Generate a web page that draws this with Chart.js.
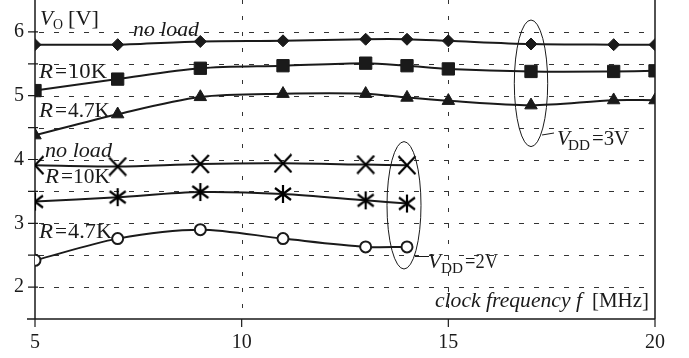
<!DOCTYPE html>
<html>
<head>
<meta charset="utf-8">
<script src="https://cdn.jsdelivr.net/npm/chart.js@4/dist/chart.umd.min.js"></script>
<style>
  html, body { margin: 0; padding: 0; background: #ffffff; }
  canvas { display: block; }
</style>
</head>
<body>
<canvas id="c" width="689" height="358"></canvas>
<script>
// ---- data ----
const freq3V = [5, 7, 9, 11, 13, 14, 15, 17, 19, 20];
const vdd3NoLoad = [5.80, 5.80, 5.85, 5.86, 5.885, 5.885, 5.86, 5.81, 5.80, 5.80];
const vdd3R10K  = [5.08, 5.26, 5.43, 5.47, 5.51, 5.47, 5.42, 5.38, 5.38, 5.39];
const vdd3R47K  = [4.38, 4.71, 4.98, 5.03, 5.03, 4.97, 4.92, 4.85, 4.93, 4.93];

const freq2V = [5, 7, 9, 11, 13, 14];
const vdd2NoLoad = [3.91, 3.89, 3.93, 3.94, 3.92, 3.91];
const vdd2R10K  = [3.34, 3.41, 3.49, 3.46, 3.36, 3.31];
const vdd2R47K  = [2.42, 2.76, 2.90, 2.76, 2.63, 2.63];

const xTickValues = [5, 10, 15, 20];
const yTickValues = [2, 3, 4, 5, 6];

// ---- custom marker canvases ----
const INK = '#1a1a1a';
function makeMarker(drawFn) {
  const c = document.createElement('canvas');
  c.width = 20; c.height = 20;
  const g = c.getContext('2d');
  g.strokeStyle = '#000'; g.lineWidth = 2.2; g.lineCap = 'butt';
  g.beginPath(); drawFn(g); g.stroke();
  return c;
}
const xMarker = makeMarker(g => {
  g.moveTo(1.5, 1); g.lineTo(18.5, 19);
  g.moveTo(1.5, 19); g.lineTo(18.5, 1);
});
const asteriskMarker = makeMarker(g => {
  g.moveTo(10, 1); g.lineTo(10, 19);
  g.moveTo(2, 4); g.lineTo(18, 16);
  g.moveTo(2, 16); g.lineTo(18, 4);
});

function pts(xs, ys) { return xs.map((x, i) => ({ x: x, y: ys[i] })); }

function series(label, xs, ys, style) {
  return Object.assign({
    label: label,
    data: pts(xs, ys),
    borderColor: INK,
    backgroundColor: INK,
    borderWidth: 2,
    tension: 0.3,
    pointBorderColor: INK,
    pointBackgroundColor: INK,
    pointBorderWidth: 1,
    fill: false
  }, style);
}

const datasets = [
  series('VDD=3V no load', freq3V, vdd3NoLoad, { pointStyle: 'rectRot', pointRadius: 6 }),
  series('VDD=3V R=10K', freq3V, vdd3R10K, { pointStyle: 'rect', pointRadius: 8.7 }),
  series('VDD=3V R=4.7K', freq3V, vdd3R47K, { pointStyle: 'triangle', pointRadius: 7.2 }),
  series('VDD=2V no load', freq2V, vdd2NoLoad, { pointStyle: xMarker }),
  series('VDD=2V R=10K', freq2V, vdd2R10K, { pointStyle: asteriskMarker }),
  series('VDD=2V R=4.7K', freq2V, vdd2R47K, { pointStyle: 'circle', pointRadius: 5.5, pointBackgroundColor: '#ffffff', pointBorderWidth: 2 })
];

// ---- drawing helpers ----
const SERIF = '"Liberation Serif", "DejaVu Serif", serif';
function txt(ctx, s, x, y, size, italic, width) {
  ctx.save();
  ctx.font = (italic ? 'italic ' : '') + size + 'px ' + SERIF;
  ctx.fillStyle = '#1a1a1a';
  ctx.textBaseline = 'alphabetic';
  ctx.textAlign = 'left';
  const w = ctx.measureText(s).width;
  const sx = width ? width / w : 1;
  ctx.translate(x, y);
  ctx.scale(sx, 1);
  ctx.fillText(s, 0, 0);
  ctx.restore();
}

const frame = {
  id: 'frame',
  beforeDatasetsDraw(chart) {
    const ctx = chart.ctx;
    const xs = chart.scales.x, ys = chart.scales.y;
    const a = chart.chartArea;
    ctx.save();
    // horizontal dashed grid
    ctx.strokeStyle = '#333';
    ctx.lineWidth = 1;
    ctx.setLineDash([5, 10]);
    for (let v = 2; v <= 6.001; v += 0.5) {
      const y = Math.round(ys.getPixelForValue(v)) + 0.5;
      ctx.beginPath(); ctx.moveTo(a.left + 4, y); ctx.lineTo(a.right - 6, y); ctx.stroke();
    }
    // vertical dashed grid
    ctx.setLineDash([4, 12]);
    [10, 15].forEach(v => {
      const x = Math.round(xs.getPixelForValue(v)) + 0.5;
      ctx.beginPath(); ctx.moveTo(x, a.top); ctx.lineTo(x, a.bottom); ctx.stroke();
    });
    ctx.setLineDash([]);
    // axes
    ctx.strokeStyle = '#1a1a1a';
    ctx.lineWidth = 1.5;
    const x0 = xs.getPixelForValue(5), x1 = xs.getPixelForValue(20);
    const yb = ys.getPixelForValue(1.5), yt = ys.getPixelForValue(6.5);
    ctx.beginPath();
    ctx.moveTo(x0, yt); ctx.lineTo(x0, yb);
    ctx.moveTo(x0 - 8, yb); ctx.lineTo(x1, yb);
    ctx.moveTo(x1, yt); ctx.lineTo(x1, yb);
    ctx.stroke();
    // ticks
    ctx.lineWidth = 1.2;
    ctx.beginPath();
    for (let v = 2; v <= 6.001; v += 0.5) {
      const y = ys.getPixelForValue(v);
      ctx.moveTo(x0 - 7, y); ctx.lineTo(x0 + 3, y);
    }
    xTickValues.forEach(v => {
      const x = xs.getPixelForValue(v);
      ctx.moveTo(x, yb); ctx.lineTo(x, yb + 8);
    });
    ctx.stroke();
    ctx.restore();
  },
  afterDatasetsDraw(chart) {
    const ctx = chart.ctx;
    // axis titles
    txt(ctx, 'V', 40, 25, 20, true, 13);
    txt(ctx, 'O', 53, 29, 14, false, 10);
    txt(ctx, '[V]', 68, 25, 20, false, 31);
    txt(ctx, 'clock frequency f', 435, 307, 20, true, 147);
    txt(ctx, '[MHz]', 592, 307, 20, false, 57);
    // VDD = 3V labels
    txt(ctx, 'no load', 133, 36, 21, true, 66);
    txt(ctx, 'R', 39, 78, 20, true, 14);
    txt(ctx, '=', 55, 78, 20, false, 12);
    txt(ctx, '10K', 68, 78, 20, false, 39);
    txt(ctx, 'R', 39, 117, 20, true, 14);
    txt(ctx, '=', 55, 117, 20, false, 12);
    txt(ctx, '4.7K', 68, 117, 20, false, 42);
    // VDD = 2V labels
    txt(ctx, 'no load', 45, 157, 21, true, 67);
    txt(ctx, 'R', 45, 183, 20, true, 14);
    txt(ctx, '=', 61, 183, 20, false, 12);
    txt(ctx, '10K', 73, 183, 20, false, 37);
    txt(ctx, 'R', 39, 238, 20, true, 14);
    txt(ctx, '=', 55, 238, 20, false, 12);
    txt(ctx, '4.7K', 68, 238, 20, false, 44);
    // ellipses and leaders
    ctx.save();
    ctx.strokeStyle = '#1a1a1a';
    ctx.lineWidth = 1;
    ctx.beginPath(); ctx.ellipse(531, 83.3, 16.7, 63.3, 0, 0, Math.PI * 2); ctx.stroke();
    ctx.beginPath(); ctx.ellipse(404, 205.3, 17, 63.7, 0, 0, Math.PI * 2); ctx.stroke();
    ctx.beginPath();
    ctx.moveTo(542, 135); ctx.lineTo(554, 133);
    ctx.moveTo(415, 256.5); ctx.lineTo(429, 256.5);
    ctx.stroke();
    ctx.restore();
    txt(ctx, 'V', 557, 145, 20, true, 13);
    txt(ctx, 'DD', 568, 150, 14, false, 22);
    txt(ctx, '=3V', 592, 145, 20, false, 37);
    txt(ctx, 'V', 428, 268, 20, true, 13);
    txt(ctx, 'DD', 441, 273, 14, false, 22);
    txt(ctx, '=2V', 465, 268, 20, false, 33);
  }
};

new Chart(document.getElementById('c'), {
  type: 'line',
  data: { datasets: datasets },
  options: {
    responsive: false,
    devicePixelRatio: 1,
    animation: false,
    layout: { autoPadding: false, padding: { top: 0, right: 34, bottom: 0, left: 0 } },
    plugins: { legend: { display: false }, tooltip: { enabled: false } },
    scales: {
      x: {
        type: 'linear',
        min: 5, max: 20,
        afterBuildTicks: s => { s.ticks = xTickValues.map(v => ({ value: v })); },
        afterFit: s => { s.height = 39; s.paddingLeft = 0; s.paddingRight = 0; },
        grid: { display: false, drawTicks: false },
        border: { display: false },
        ticks: {
          padding: 12,
          color: '#1a1a1a',
          font: { family: SERIF, size: 20 },
          maxRotation: 0,
          callback: v => String(v)
        }
      },
      y: {
        type: 'linear',
        min: 1.5, max: 6.5,
        afterBuildTicks: s => { s.ticks = yTickValues.map(v => ({ value: v })); },
        afterFit: s => { s.width = 35; s.paddingTop = 0; s.paddingBottom = 0; },
        grid: { display: false, drawTicks: false },
        border: { display: false },
        ticks: {
          padding: 11,
          color: '#1a1a1a',
          font: { family: SERIF, size: 20 },
          callback: v => String(v)
        }
      }
    }
  },
  plugins: [frame]
});
</script>
</body>
</html>
